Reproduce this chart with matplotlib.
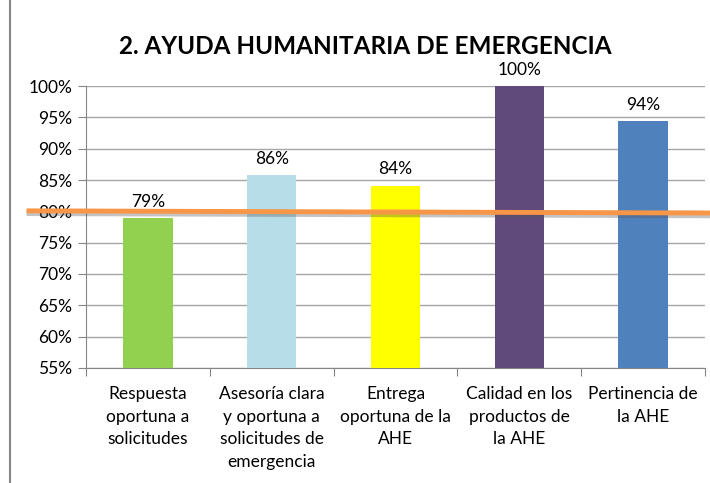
import matplotlib
matplotlib.use("Agg")
import matplotlib.pyplot as plt
from matplotlib.lines import Line2D
import matplotlib.patheffects as pe

categories = ["Respuesta\noportuna a\nsolicitudes",
              "Asesoría clara\ny oportuna a\nsolicitudes de\nemergencia",
              "Entrega\noportuna de la\nAHE",
              "Calidad en los\nproductos de\nla AHE",
              "Pertinencia de\nla AHE"]
values = [78.9, 85.8, 84.1, 100, 94.4]
labels = ["79%", "86%", "84%", "100%", "94%"]
colors = ["#92D050", "#B7DEE8", "#FFFF00", "#604A7B", "#4F81BD"]
target = 80
yticks = list(range(55, 101, 5))

plt.rcParams['font.family'] = ['Lato', 'DejaVu Sans']

fig = plt.figure(figsize=(7.1, 4.83), dpi=100)
ax = fig.add_axes([86/710, 1-368/483, (705-86)/710, (368-86)/483])

x = list(range(len(values)))
ax.bar(x, values, width=0.4, color=colors, zorder=3)
ax.set_ylim(55, 100)
ax.set_xlim(-0.5, len(values)-0.5)
ax.set_yticks(yticks)
ax.set_yticklabels([f"{t}%" for t in yticks], fontsize=12.5)
ax.yaxis.grid(True, color="#A6A6A6", linewidth=1, zorder=0)
ax.set_axisbelow(True)

ax.set_xticks([i - 0.5 for i in range(len(values)+1)])
ax.set_xticklabels([])
ax.set_xticks(x, minor=True)
ax.set_xticklabels(categories, minor=True, fontsize=12.5, linespacing=1.5, va="top")
ax.tick_params(axis="x", which="minor", length=0, pad=13)
ax.tick_params(axis="x", which="major", length=6, color="#868686")
ax.tick_params(axis="y", length=6, color="#868686", pad=4)

for s in ["top", "right"]:
    ax.spines[s].set_visible(False)
for s in ["left", "bottom"]:
    ax.spines[s].set_color("#868686")

for xi, v, l in zip(x, values, labels):
    ax.text(xi, v + 1.3, l, ha="center", va="bottom", fontsize=12.5, zorder=5, clip_on=False)

# target line extending beyond axes
ax.plot([-0.98, 4.55], [target + 0.08, target - 0.27], color="#F79646", linewidth=3.5,
        solid_capstyle="butt", zorder=6, clip_on=False,
        path_effects=[pe.SimpleLineShadow(offset=(0, -2), shadow_color="#555555", alpha=0.35),
                      pe.Normal()])

fig.text(0.515, 1-47/483, "2. AYUDA HUMANITARIA DE EMERGENCIA", ha="center", va="center",
         fontsize=17.5, fontweight="bold")

fig.add_artist(Line2D([10/710, 10/710], [0, 1], color="#868686", linewidth=1.5))

fig.savefig("out.png", dpi=100)
